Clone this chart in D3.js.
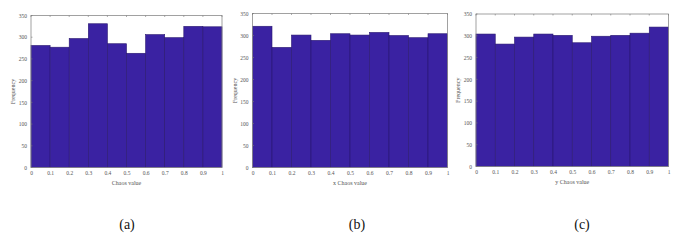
<!DOCTYPE html>
<html><head><meta charset="utf-8">
<script src="https://cdn.jsdelivr.net/npm/d3@7"></script>
<style>body{margin:0;background:#fff}svg{display:block}</style>
</head><body><svg id="c" width="680" height="244"></svg>
<script>
const binEdges = [0,0.1,0.2,0.3,0.4,0.5,0.6,0.7,0.8,0.9,1];
const xTicks = [0,0.1,0.2,0.3,0.4,0.5,0.6,0.7,0.8,0.9,1];
const yTicks = [0,50,100,150,200,250,300,350];
const seriesA = [281,277,297,331,285,263,306,299,325,324];
const seriesB = [321,273,301,289,304,301,307,300,295,304];
const seriesC = [304,281,297,304,301,284,299,301,306,320];
const xLabels = ["Chaos value","x Chaos value","y Chaos value"];
const captions = ["(a)","(b)","(c)"];
const yLabel = "Frequency";

const panels = [
  {data:seriesA, l:31, r:222, t:15.5, b:167.5, cap:127},
  {data:seriesB, l:252.5, r:447.5, t:13.5, b:167.5, cap:357},
  {data:seriesC, l:476, r:668.5, t:14, b:166.5, cap:582}
];
const svg = d3.select("#c");
const font = "'Liberation Serif','Times New Roman',serif";
panels.forEach((p,i)=>{
  const x = d3.scaleLinear().domain([0,1]).range([p.l,p.r]);
  const y = d3.scaleLinear().domain([0,350]).range([p.b,p.t]);
  const g = svg.append("g");
  g.selectAll("rect.bar").data(p.data).join("rect")
    .attr("x",(d,j)=>x(binEdges[j])).attr("width",(d,j)=>x(binEdges[j+1])-x(binEdges[j]))
    .attr("y",d=>y(d)).attr("height",d=>y(0)-y(d))
    .attr("fill","#3a22a2").attr("stroke","#2a1870").attr("stroke-width",0.6);
  g.append("rect").attr("x",p.l).attr("y",p.t).attr("width",p.r-p.l).attr("height",p.b-p.t)
    .attr("fill","none").attr("stroke","#8a8a8a").attr("stroke-width",0.8);
  const xa = g.append("g").attr("transform",`translate(0,${p.b})`)
    .call(d3.axisBottom(x).tickValues(xTicks).tickSize(0).tickPadding(4).tickFormat(d=>d3.format("~g")(d)));
  const ya = g.append("g").attr("transform",`translate(${p.l},0)`)
    .call(d3.axisLeft(y).tickValues(yTicks).tickSize(0).tickPadding(4));
  [xa,ya].forEach(a=>{a.select(".domain").remove();
    a.selectAll("text").attr("font-family",font).attr("font-size",5.5).attr("fill","#555");});
  g.selectAll("line.xt").data(xTicks).join("line")
    .attr("x1",d=>x(d)).attr("x2",d=>x(d)).attr("y1",p.t).attr("y2",p.t+1.5).attr("stroke","#777").attr("stroke-width",0.6);
  g.selectAll("line.yt").data(yTicks).join("line")
    .attr("x1",p.l).attr("x2",p.l+1.5).attr("y1",d=>y(d)).attr("y2",d=>y(d)).attr("stroke","#777").attr("stroke-width",0.6);
  g.append("text").attr("x",(p.l+p.r)/2).attr("y",p.b+17).attr("text-anchor","middle")
    .attr("font-family",font).attr("font-size",6).attr("fill","#555").text(xLabels[i]);
  g.append("text").attr("transform",`translate(${p.l-16},${(p.t+p.b)/2}) rotate(-90)`)
    .attr("text-anchor","middle").attr("font-family",font).attr("font-size",6).attr("fill","#555").text(yLabel);
  g.append("text").attr("x",p.cap).attr("y",229).attr("text-anchor","middle")
    .attr("font-family",font).attr("font-size",14).attr("fill","#111").text(captions[i]);
});
</script></body></html>
